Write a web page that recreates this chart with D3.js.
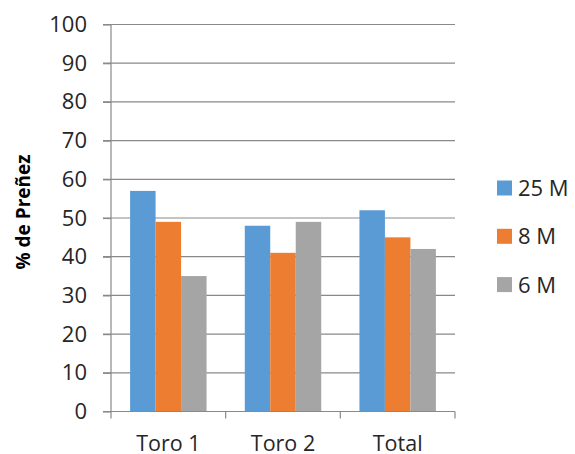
<!DOCTYPE html>
<html><head><meta charset="utf-8">
<script src="https://cdn.jsdelivr.net/npm/d3@7"></script>
<style>body{margin:0;background:#fff}svg{display:block}</style>
</head><body>
<script>
const categories = ["Toro 1", "Toro 2", "Total"];
const seriesNames = ["25 M", "8 M", "6 M"];
const values25M = [57, 48, 52];
const values8M = [49, 41, 45];
const values6M = [35, 49, 42];
const yTicks = [0, 10, 20, 30, 40, 50, 60, 70, 80, 90, 100];
const colors = ["#5B9BD5", "#ED7D31", "#A5A5A5"];
const seriesValues = [values25M, values8M, values6M];

(function () {
const W = 575, H = 454;
const pL = 111, pR = 455, pT = 24.5, pB = 411.5;
const font = "'Open Sans', 'Liberation Sans', sans-serif";

const svg = d3.select("body").append("svg").attr("width", W).attr("height", H);

const y = d3.scaleLinear().domain([0, 100]).range([pB, pT]);
const x0 = d3.scaleBand().domain(categories).range([pL, pR]).paddingInner(1/3).paddingOuter(1/6);
const x1 = d3.scaleBand().domain(seriesNames).range([0, x0.bandwidth()]);

// gridlines
svg.append("g").selectAll("line").data(yTicks.filter(d => d > 0)).join("line")
  .attr("x1", pL - 8).attr("x2", pR)
  .attr("y1", d => y(d)).attr("y2", d => y(d))
  .attr("stroke", "#898989").attr("stroke-width", 1.2);

// bars
const groups = svg.append("g").selectAll("g").data(categories).join("g")
  .attr("transform", c => `translate(${x0(c)},0)`);
groups.selectAll("rect").data((c, i) => seriesNames.map((s, j) => ({s, v: seriesValues[j][i], j})))
  .join("rect")
  .attr("x", d => x1(d.s)).attr("width", x1.bandwidth())
  .attr("y", d => y(d.v)).attr("height", d => y(0) - y(d.v))
  .attr("fill", d => colors[d.j]);

// y axis
const yAxis = svg.append("g").attr("transform", `translate(${pL},0)`)
  .call(d3.axisLeft(y).tickValues(yTicks).tickSize(8).tickPadding(16));
yAxis.select(".domain").attr("stroke", "#898989").attr("stroke-width", 1.2).attr("d", `M0,${pT}V${pB}`);
yAxis.selectAll(".tick line").attr("stroke", "#898989").attr("stroke-width", 1.2);
yAxis.selectAll(".tick text").attr("font-family", font).attr("font-size", 22).attr("fill", "#262626");

// x axis
const xAxis = svg.append("g").attr("transform", `translate(0,${pB})`);
xAxis.append("line").attr("x1", pL - 8).attr("x2", pR).attr("stroke", "#898989").attr("stroke-width", 1.2);
const boundaries = categories.map(c => x0(c) - x0.step() * x0.paddingOuter()).concat([pR]);
xAxis.selectAll("line.tk").data(boundaries).join("line").attr("class", "tk")
  .attr("x1", d => d).attr("x2", d => d).attr("y1", 0).attr("y2", 7)
  .attr("stroke", "#898989").attr("stroke-width", 1.2);
xAxis.selectAll("text").data(categories).join("text")
  .attr("x", c => x0(c) + x0.bandwidth() / 2).attr("y", 39.5)
  .attr("text-anchor", "middle").attr("font-family", font).attr("font-size", 21.5).attr("fill", "#262626")
  .text(c => c);

// y title
svg.append("text").attr("transform", "translate(30,212) rotate(-90)")
  .attr("text-anchor", "middle").attr("font-family", font).attr("font-weight", "bold")
  .attr("font-size", 19).attr("fill", "#000").text("% de Preñez");

// legend
const legend = svg.append("g").selectAll("g").data(seriesNames).join("g")
  .attr("transform", (d, i) => `translate(497,${188 + i * 48.3})`);
legend.append("rect").attr("x", 0).attr("y", -7.5).attr("width", 15).attr("height", 15)
  .attr("fill", (d, i) => colors[i]);
legend.append("text").attr("x", 21).attr("y", 8).attr("font-family", font).attr("font-size", 22)
  .attr("fill", "#262626").text(d => d);
})();
</script>
</body></html>
